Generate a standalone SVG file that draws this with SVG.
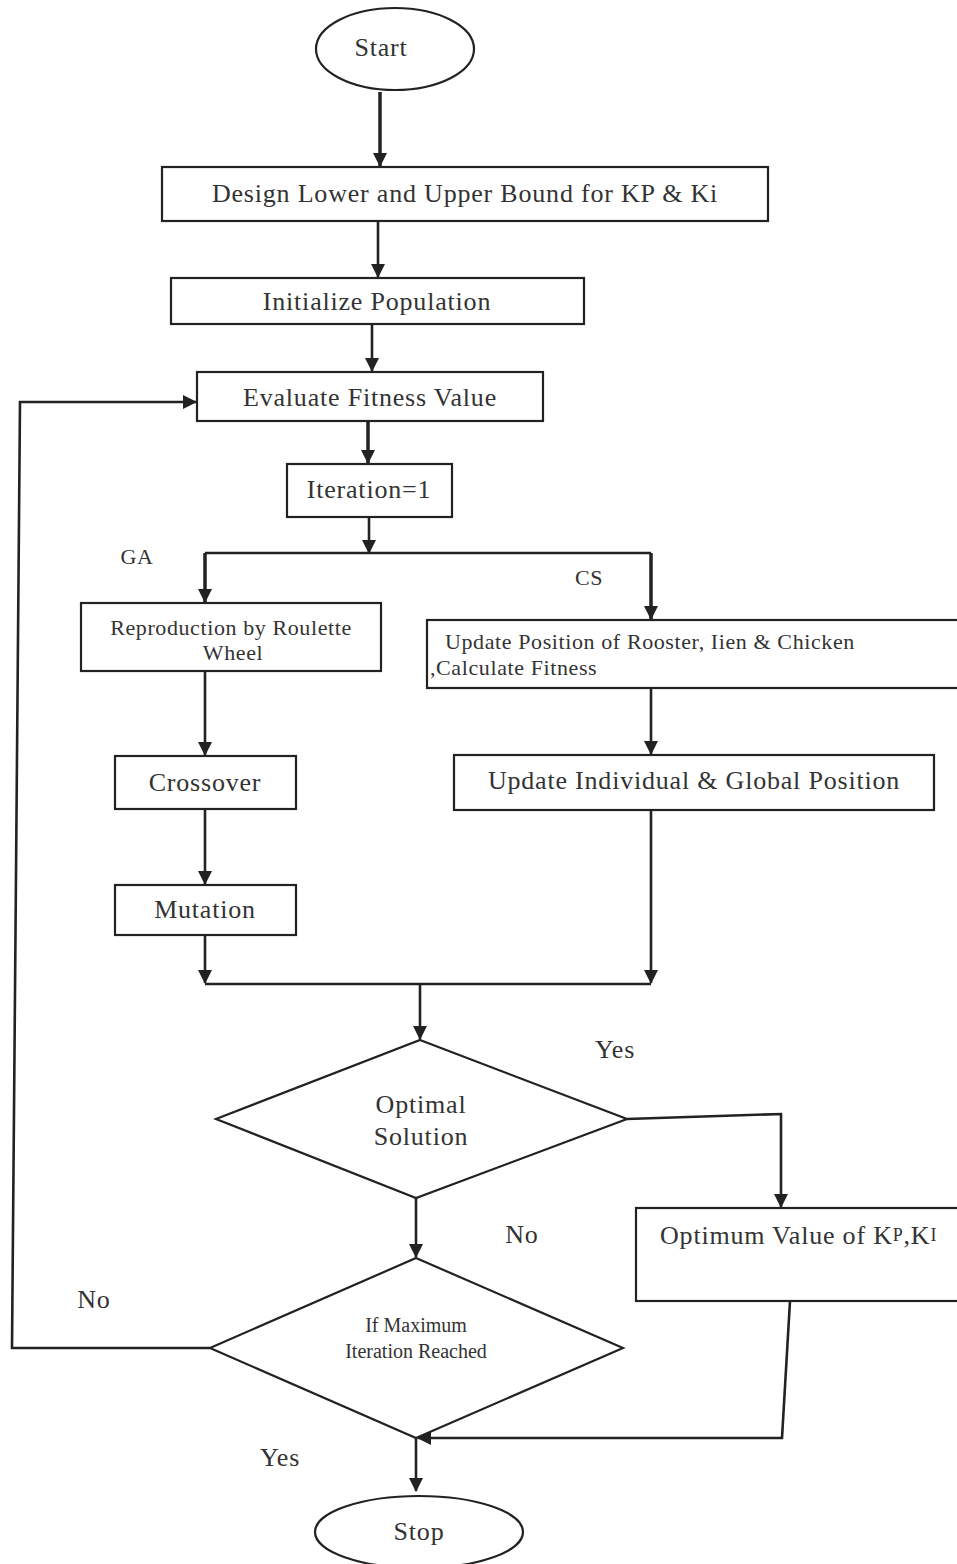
<svg xmlns="http://www.w3.org/2000/svg" width="957" height="1564" viewBox="0 0 957 1564">
<style>
.n{fill:#fff;stroke:#222;stroke-width:2.2}
.t{font-family:"Liberation Serif","Times New Roman",serif;font-size:26px;letter-spacing:0.8px;fill:#333;text-anchor:middle;dominant-baseline:central}
.s{font-size:22px;letter-spacing:0.6px}
.m{font-size:20px;letter-spacing:0}
.l{text-anchor:start}
.c{fill:none;stroke:#222;stroke-width:2.6}
.k{stroke-width:3.5}
</style>
<defs>
<marker id="b" markerWidth="14" markerHeight="14" refX="13" refY="7" orient="auto" markerUnits="userSpaceOnUse" viewBox="0 0 14 14">
<path d="M0,0 L14,7 L0,14 z" fill="#222"/>
</marker>
</defs>
<rect width="957" height="1564" fill="#fff"/>
<g id="connectors">
<path class="c k" d="M380,92 V166" marker-end="url(#b)"/>
<path class="c" d="M378,221 V277" marker-end="url(#b)"/>
<path class="c" d="M372,324 V371" marker-end="url(#b)"/>
<path class="c k" d="M368,421 V463" marker-end="url(#b)"/>
<path class="c" d="M369,517 V553" marker-end="url(#b)"/>
<path class="c" d="M205,553 H651"/>
<path class="c k" d="M205,553 V602" marker-end="url(#b)"/>
<path class="c k" d="M651,553 V619" marker-end="url(#b)"/>
<path class="c" d="M651,688 V754" marker-end="url(#b)"/>
<path class="c" d="M205,671 V755" marker-end="url(#b)"/>
<path class="c" d="M205,809 V884" marker-end="url(#b)"/>
<path class="c" d="M205,935 V983" marker-end="url(#b)"/>
<path class="c" d="M651,810 V983" marker-end="url(#b)"/>
<path class="c" d="M205,984 H651"/>
<path class="c" d="M420,984 V1039" marker-end="url(#b)"/>
<path class="c" d="M627,1119 L781,1114 V1207" marker-end="url(#b)"/>
<path class="c" d="M416,1198 V1257" marker-end="url(#b)"/>
<path class="c" d="M210,1348 H12 L20,402 H196" marker-end="url(#b)"/>
<path class="c" d="M790,1301 L782,1438 H418" marker-end="url(#b)"/>
<path class="c" d="M416,1438 V1491" marker-end="url(#b)"/>
</g>
<g id="start"><ellipse class="n" cx="395" cy="49" rx="79" ry="41"/><text class="t" x="381" y="47">Start</text></g>
<g id="bounds"><rect class="n" x="162" y="167" width="606" height="54"/><text class="t" x="465" y="193">Design Lower and Upper Bound for KP &amp; Ki</text></g>
<g id="init"><rect class="n" x="171" y="278" width="413" height="46"/><text class="t" x="377" y="301">Initialize Population</text></g>
<g id="eval"><rect class="n" x="197" y="372" width="346" height="49"/><text class="t" x="370" y="397">Evaluate Fitness Value</text></g>
<g id="iter"><rect class="n" x="287" y="464" width="165" height="53"/><text class="t" x="369" y="489">Iteration=1</text></g>
<g id="lblGA"><text class="t s" x="137" y="556">GA</text></g>
<g id="lblCS"><text class="t s" x="589" y="577">CS</text></g>
<g id="repro"><rect class="n" x="81" y="603" width="300" height="68"/><text class="t s" x="231" y="627">Reproduction by Roulette</text><text class="t s" x="233" y="652">Wheel</text></g>
<g id="update"><rect class="n" x="427" y="620" width="540" height="68"/><text class="t s l" x="445" y="641">Update Position of Rooster, Iien &amp; Chicken</text><text class="t s l" x="430" y="667">,Calculate Fitness</text></g>
<g id="crossover"><rect class="n" x="115" y="756" width="181" height="53"/><text class="t" x="205" y="782">Crossover</text></g>
<g id="indiv"><rect class="n" x="454" y="755" width="480" height="55"/><text class="t" x="694" y="780">Update Individual &amp; Global Position</text></g>
<g id="mutation"><rect class="n" x="115" y="885" width="181" height="50"/><text class="t" x="205" y="909">Mutation</text></g>
<g id="optimal"><path class="n" d="M420,1040 L627,1119 L416,1198 L216,1119 Z"/><text class="t" x="421" y="1104">Optimal</text><text class="t" x="421" y="1136">Solution</text></g>
<g id="lblYes1"><text class="t" x="615" y="1049">Yes</text></g>
<g id="lblNo1"><text class="t" x="522" y="1234">No</text></g>
<g id="optimum"><rect class="n" x="636" y="1208" width="330" height="93"/><text class="t l" x="660" y="1235">Optimum Value of K<tspan font-size="18">P</tspan>,K<tspan font-size="18">I</tspan></text></g>
<g id="maxiter"><path class="n" d="M416,1258 L623,1348 L416,1438 L210,1348 Z"/><text class="t m" x="416" y="1325">If Maximum</text><text class="t m" x="416" y="1351">Iteration Reached</text></g>
<g id="lblNo2"><text class="t" x="94" y="1299">No</text></g>
<g id="lblYes2"><text class="t" x="280" y="1457">Yes</text></g>
<g id="stop"><ellipse class="n" cx="419" cy="1532" rx="104" ry="36"/><text class="t" x="419" y="1531">Stop</text></g>
</svg>
